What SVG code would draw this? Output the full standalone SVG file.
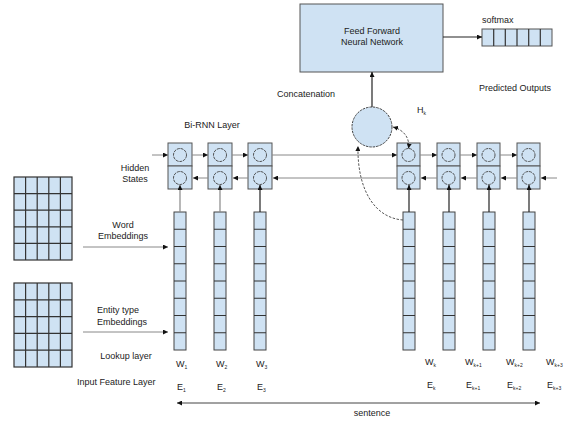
<svg xmlns="http://www.w3.org/2000/svg" width="575" height="421" viewBox="0 0 575 421">
<defs>
<style>
text{font-family:"Liberation Sans",Arial,sans-serif;font-size:9px;fill:#222}
.sub{font-size:5px}
.box{fill:#cfe2f3;stroke:#555;stroke-width:1}
.grid{fill:#cfe2f3;stroke:#333;stroke-width:1.2}
.gl{stroke:#333;stroke-width:1.2;fill:none}
.col{fill:#cfe2f3;stroke:#444;stroke-width:1}
.sc{fill:none;stroke:#444;stroke-width:0.9;stroke-dasharray:3 0.8}
.h{stroke:#888;stroke-width:1;fill:none}
.v{stroke:#888;stroke-width:1.2;fill:none}
.vd{stroke:#222;stroke-width:1.2;fill:none}
.dash{stroke:#444;stroke-width:0.9;stroke-dasharray:2.5 1.5;fill:none}
</style>
<marker id="ah" viewBox="0 0 10 10" refX="10" refY="5" markerWidth="5" markerHeight="5" orient="auto-start-reverse" markerUnits="userSpaceOnUse">
<path d="M0,0 L10,5 L0,10 z" fill="#111"/>
</marker>
</defs>

<!-- Feed forward network -->
<g id="ffn">
<rect class="box" x="300" y="4" width="143" height="68"/>
<text x="372" y="34" text-anchor="middle">Feed Forward</text>
<text x="372" y="45" text-anchor="middle">Neural Network</text>
</g>

<g id="softmax">
<text x="482" y="23">softmax</text>
<rect class="box" x="482" y="29" width="70" height="17" stroke="#333"/>
<path class="gl" d="M493.7,29V46M505.3,29V46M517,29V46M528.7,29V46M540.3,29V46"/>
</g>

<g id="concat">
<circle cx="372" cy="127" r="20" fill="#cfe2f3" stroke="#444" stroke-width="1" stroke-dasharray="2.5 1"/>
<text x="277" y="97">Concatenation</text>
<text x="417" y="113">H<tspan class="sub" dy="2">k</tspan></text>
</g>

<text x="479" y="91">Predicted Outputs</text>
<text x="212" y="128" text-anchor="middle">Bi-RNN Layer</text>
<text x="135" y="171" text-anchor="middle">Hidden</text>
<text x="135" y="182" text-anchor="middle">States</text>

<!-- Embedding tables -->
<g id="word-table">
<rect class="grid" x="14" y="177" width="58" height="83"/>
<path class="gl" d="M25.6,177V260M37.2,177V260M48.8,177V260M60.4,177V260M14,193.6H72M14,210.2H72M14,226.8H72M14,243.4H72"/>
</g>
<g id="entity-table">
<rect class="grid" x="14" y="283" width="58" height="84"/>
<path class="gl" d="M25.6,283V367M37.2,283V367M48.8,283V367M60.4,283V367M14,299.8H72M14,316.6H72M14,333.4H72M14,350.2H72"/>
</g>
<text x="123" y="228" text-anchor="middle">Word</text>
<text x="123" y="239" text-anchor="middle">Embeddings</text>
<text x="97" y="313">Entity type</text>
<text x="97" y="325">Embeddings</text>
<text x="126" y="359" text-anchor="middle">Lookup layer</text>
<text x="77" y="385">Input Feature Layer</text>

<!-- RNN cells -->
<g id="cell1"><rect class="box" x="168" y="143" width="24" height="23"/><rect class="box" x="168" y="166" width="24" height="23"/><circle class="sc" cx="180" cy="155" r="6.5"/><circle class="sc" cx="180" cy="178" r="6.5"/></g>
<g id="cell2"><rect class="box" x="208" y="143" width="24" height="23"/><rect class="box" x="208" y="166" width="24" height="23"/><circle class="sc" cx="220" cy="155" r="6.5"/><circle class="sc" cx="220" cy="178" r="6.5"/></g>
<g id="cell3"><rect class="box" x="248" y="143" width="24" height="23"/><rect class="box" x="248" y="166" width="24" height="23"/><circle class="sc" cx="260" cy="155" r="6.5"/><circle class="sc" cx="260" cy="178" r="6.5"/></g>
<g id="cellk"><rect class="box" x="397" y="143" width="23" height="23"/><rect class="box" x="397" y="166" width="23" height="23"/><circle class="sc" cx="408.5" cy="155" r="6.5"/><circle class="sc" cx="408.5" cy="178" r="6.5"/></g>
<g id="cellk1"><rect class="box" x="437" y="143" width="23" height="23"/><rect class="box" x="437" y="166" width="23" height="23"/><circle class="sc" cx="448.5" cy="155" r="6.5"/><circle class="sc" cx="448.5" cy="178" r="6.5"/></g>
<g id="cellk2"><rect class="box" x="477" y="143" width="23" height="23"/><rect class="box" x="477" y="166" width="23" height="23"/><circle class="sc" cx="488.5" cy="155" r="6.5"/><circle class="sc" cx="488.5" cy="178" r="6.5"/></g>
<g id="cellk3"><rect class="box" x="517" y="143" width="23" height="23"/><rect class="box" x="517" y="166" width="23" height="23"/><circle class="sc" cx="528.5" cy="155" r="6.5"/><circle class="sc" cx="528.5" cy="178" r="6.5"/></g>

<!-- Embedding columns -->
<g id="col1"><rect class="col" x="174" y="212" width="12" height="138"/><path class="gl" d="M174,229.25H186M174,246.5H186M174,263.75H186M174,281H186M174,298.25H186M174,315.5H186M174,332.75H186"/></g>
<g id="col2"><rect class="col" x="214" y="212" width="12" height="138"/><path class="gl" d="M214,229.25H226M214,246.5H226M214,263.75H226M214,281H226M214,298.25H226M214,315.5H226M214,332.75H226"/></g>
<g id="col3"><rect class="col" x="254" y="212" width="12" height="138"/><path class="gl" d="M254,229.25H266M254,246.5H266M254,263.75H266M254,281H266M254,298.25H266M254,315.5H266M254,332.75H266"/></g>
<g id="colk"><rect class="col" x="403" y="212" width="12" height="138"/><path class="gl" d="M403,229.25H415M403,246.5H415M403,263.75H415M403,281H415M403,298.25H415M403,315.5H415M403,332.75H415"/></g>
<g id="colk1"><rect class="col" x="443" y="212" width="12" height="138"/><path class="gl" d="M443,229.25H455M443,246.5H455M443,263.75H455M443,281H455M443,298.25H455M443,315.5H455M443,332.75H455"/></g>
<g id="colk2"><rect class="col" x="483" y="212" width="12" height="138"/><path class="gl" d="M483,229.25H495M483,246.5H495M483,263.75H495M483,281H495M483,298.25H495M483,315.5H495M483,332.75H495"/></g>
<g id="colk3"><rect class="col" x="523" y="212" width="12" height="138"/><path class="gl" d="M523,229.25H535M523,246.5H535M523,263.75H535M523,281H535M523,298.25H535M523,315.5H535M523,332.75H535"/></g>

<!-- Labels -->
<g id="labels">
<text x="176" y="367">W<tspan class="sub" dy="2">1</tspan></text>
<text x="216" y="367">W<tspan class="sub" dy="2">2</tspan></text>
<text x="256" y="367">W<tspan class="sub" dy="2">3</tspan></text>
<text x="425" y="365">W<tspan class="sub" dy="2">k</tspan></text>
<text x="465" y="365">W<tspan class="sub" dy="2">k+1</tspan></text>
<text x="506" y="365">W<tspan class="sub" dy="2">k+2</tspan></text>
<text x="546" y="365">W<tspan class="sub" dy="2">k+3</tspan></text>
<text x="177" y="390">E<tspan class="sub" dy="2">1</tspan></text>
<text x="217" y="390">E<tspan class="sub" dy="2">2</tspan></text>
<text x="257" y="390">E<tspan class="sub" dy="2">3</tspan></text>
<text x="427" y="388">E<tspan class="sub" dy="2">k</tspan></text>
<text x="466" y="388">E<tspan class="sub" dy="2">k+1</tspan></text>
<text x="507" y="388">E<tspan class="sub" dy="2">k+2</tspan></text>
<text x="547" y="388">E<tspan class="sub" dy="2">k+3</tspan></text>
<text x="372" y="416" text-anchor="middle">sentence</text>
</g>

<!-- Connectors -->
<g id="connectors">
<path class="vd" d="M443,37H482" marker-end="url(#ah)" stroke="#555"/>
<path class="vd" d="M372,107V72" marker-end="url(#ah)" stroke="#555"/>
<path class="h" d="M83,247H168" marker-end="url(#ah)"/>
<path class="h" d="M83,332H168" marker-end="url(#ah)"/>
<path class="h" d="M152,155H168" marker-end="url(#ah)"/>
<path class="h" d="M192,155H208" marker-end="url(#ah)"/>
<path class="h" d="M232,155H248" marker-end="url(#ah)"/>
<path class="h" d="M272,155H397" marker-end="url(#ah)"/>
<path class="h" d="M420,155H437" marker-end="url(#ah)"/>
<path class="h" d="M460,155H477" marker-end="url(#ah)"/>
<path class="h" d="M500,155H517" marker-end="url(#ah)"/>
<path class="h" d="M557,178H541" marker-end="url(#ah)"/>
<path class="h" d="M517,178H501" marker-end="url(#ah)"/>
<path class="h" d="M477,178H461" marker-end="url(#ah)"/>
<path class="h" d="M437,178H421" marker-end="url(#ah)"/>
<path class="h" d="M397,178H273" marker-end="url(#ah)"/>
<path class="h" d="M248,178H233" marker-end="url(#ah)"/>
<path class="h" d="M208,178H193" marker-end="url(#ah)"/>
<path class="v" d="M180,212V185" marker-end="url(#ah)"/>
<path class="v" d="M220,212V185" marker-end="url(#ah)"/>
<path class="vd" d="M260,212V185" marker-end="url(#ah)"/>
<path class="vd" d="M409,212V185" marker-end="url(#ah)" stroke="#555"/>
<path class="vd" d="M449,212V185" marker-end="url(#ah)" stroke="#555"/>
<path class="vd" d="M489,212V185" marker-end="url(#ah)" stroke="#555"/>
<path class="vd" d="M529,212V185" marker-end="url(#ah)" stroke="#555"/>
<path class="dash" d="M393,127C404,130 410,138 408.5,148.5" marker-start="url(#ah)" marker-end="url(#ah)"/>
<path class="dash" d="M403,220C375,218 357,190 358,146" marker-end="url(#ah)"/>
<path d="M177,403H540" stroke="#444" stroke-width="1" fill="none" marker-start="url(#ah)" marker-end="url(#ah)"/>
</g>
</svg>
